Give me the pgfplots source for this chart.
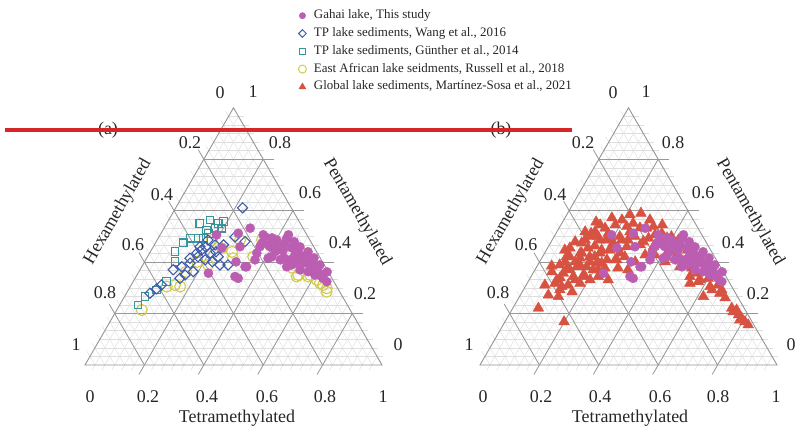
\documentclass[border=0pt]{standalone}
\usepackage{pgfplots}
\pgfplotsset{compat=1.18}
\usepackage{pgfplotstable}
\usepackage{fontspec}
\setmainfont{Liberation Serif}

\definecolor{gahai}{RGB}{187,94,178}
\definecolor{wangc}{RGB}{62,92,172}
\definecolor{guenc}{RGB}{52,150,152}
\definecolor{russc}{RGB}{212,202,72}
\definecolor{martc}{RGB}{216,82,66}
\definecolor{redline}{RGB}{215,38,42}

\tikzset{
  mingrid/.style={draw=black!13,line width=0.45bp},
  majgrid/.style={draw=black!40,line width=0.8bp},
  edge/.style={draw=black!42,line width=0.9bp},
  tick/.style={font=\fontsize{18}{20}\selectfont,text=black!85,inner sep=0pt},
}

% ternary data: T = tetramethylated, P = pentamethylated (hexa = 1 - T - P)
\pgfplotstableread{
T P
0.190 0.506
0.260 0.512
0.290 0.532
0.292 0.460
0.356 0.499
0.393 0.460
0.361 0.435
0.353 0.382
0.333 0.344
0.237 0.357
0.347 0.506
0.402 0.486
0.433 0.493
0.444 0.447
0.486 0.454
0.453 0.409
0.486 0.409
0.537 0.396
0.570 0.376
0.602 0.357
0.625 0.344
0.493 0.428
0.522 0.415
0.545 0.402
0.488 0.382
0.359 0.460
0.368 0.409
0.348 0.382
0.347 0.337
0.384 0.467
0.420 0.441
0.432 0.506
0.509 0.409
0.572 0.382
0.604 0.363
0.633 0.337
0.652 0.324
0.501 0.389
0.539 0.370
0.570 0.363
0.599 0.350
0.418 0.421
0.438 0.447
0.409 0.415
0.413 0.467
0.469 0.455
0.497 0.440
0.529 0.424
0.564 0.401
0.436 0.475
0.233 0.455
0.308 0.401
0.359 0.475
0.383 0.494
0.465 0.479
0.494 0.459
0.531 0.440
0.563 0.416
0.596 0.389
0.634 0.362
0.462 0.416
0.509 0.397
}\gahaidata

\pgfplotstableread{
T P
0.225 0.611
0.299 0.480
0.205 0.467
0.233 0.467
0.169 0.447
0.204 0.435
0.170 0.421
0.200 0.409
0.238 0.421
0.287 0.389
0.260 0.389
0.112 0.370
0.135 0.382
0.156 0.396
0.162 0.350
0.183 0.363
0.093 0.296
0.079 0.279
0.102 0.311
0.151 0.337
0.159 0.435
0.146 0.415
0.157 0.460
0.171 0.486
0.228 0.401
0.256 0.498
0.177 0.459
0.221 0.440
}\wangdata

\pgfplotstableread{
T P
0.111 0.551
0.139 0.564
0.173 0.551
0.187 0.558
0.147 0.525
0.172 0.532
0.194 0.532
0.135 0.493
0.108 0.493
0.152 0.493
0.159 0.512
0.083 0.441
0.102 0.402
0.113 0.324
0.095 0.292
0.069 0.266
0.062 0.233
0.093 0.475
}\guendata

\pgfplotstableread{
T P
0.184 0.486
0.233 0.454
0.356 0.421
0.291 0.415
0.220 0.389
0.147 0.311
0.168 0.305
0.123 0.305
0.084 0.214
0.446 0.467
0.541 0.344
0.583 0.350
0.646 0.311
0.615 0.331
0.431 0.474
0.513 0.435
0.580 0.344
0.632 0.318
0.665 0.298
0.671 0.285
0.543 0.350
0.275 0.440
0.353 0.486
0.433 0.447
0.511 0.377
0.279 0.486
0.177 0.401
0.159 0.362
}\russdata

\pgfplotstableread{
T P
0.247 0.590
0.183 0.545
0.225 0.538
0.240 0.551
0.295 0.532
0.315 0.538
0.128 0.519
0.155 0.532
0.221 0.499
0.272 0.499
0.356 0.512
0.411 0.480
0.440 0.467
0.105 0.474
0.120 0.499
0.161 0.486
0.212 0.474
0.264 0.460
0.310 0.480
0.354 0.460
0.092 0.421
0.120 0.435
0.159 0.421
0.187 0.435
0.214 0.447
0.254 0.435
0.104 0.376
0.135 0.382
0.168 0.382
0.195 0.396
0.223 0.409
0.256 0.409
0.093 0.331
0.102 0.357
0.142 0.344
0.173 0.350
0.196 0.370
0.094 0.318
0.123 0.305
0.141 0.311
0.178 0.318
0.205 0.331
0.226 0.344
0.131 0.266
0.094 0.272
0.086 0.221
0.199 0.168
0.118 0.512
0.081 0.421
0.142 0.389
0.155 0.331
0.182 0.344
0.176 0.421
0.125 0.435
0.395 0.499
0.425 0.486
0.148 0.499
0.176 0.512
0.186 0.447
0.213 0.460
0.234 0.486
0.321 0.493
0.212 0.396
0.251 0.409
0.277 0.421
0.213 0.370
0.504 0.428
0.492 0.409
0.552 0.357
0.600 0.337
0.548 0.318
0.668 0.292
0.619 0.266
0.646 0.311
0.737 0.221
0.757 0.214
0.773 0.195
0.749 0.207
0.790 0.182
0.808 0.168
0.825 0.156
0.787 0.175
0.622 0.305
0.668 0.279
0.573 0.324
0.482 0.382
0.535 0.344
0.246 0.518
0.272 0.533
0.373 0.467
0.383 0.494
0.181 0.486
0.136 0.455
0.120 0.401
0.074 0.389
0.061 0.362
0.123 0.292
0.168 0.284
0.063 0.311
0.276 0.377
0.322 0.401
0.313 0.370
0.266 0.331
0.196 0.564
0.158 0.572
0.336 0.506
0.476 0.447
0.541 0.401
0.600 0.362
0.449 0.416
0.525 0.377
0.423 0.401
0.342 0.428
0.111 0.486
0.075 0.455
0.113 0.556
0.062 0.447
0.081 0.479
0.095 0.518
0.132 0.545
0.213 0.584
0.290 0.564
0.341 0.545
0.170 0.401
0.232 0.377
0.118 0.370
0.100 0.339
0.049 0.385
0.191 0.494
0.306 0.467
0.375 0.428
0.413 0.440
0.576 0.331
0.695 0.261
0.635 0.292
0.237 0.455
0.255 0.486
0.155 0.463
0.129 0.416
0.086 0.401
}\martdata

\pgfplotsset{
  tern/.style={scale only axis,width=297bp,height=257.2bp,
    xmin=0,xmax=1,ymin=0,ymax=0.866025,hide axis,clip=false,anchor=south west},
  table/ternxy/.style={x expr=\thisrow{T}+0.5*\thisrow{P},y expr=0.866025*\thisrow{P}},
}

% grid of one triangle, lower left corner at (#1,69)
\newcommand\ternarygrid[1]{%
  \begin{scope}[shift={(#1,69)},x=297bp,y=257.2bp]
    \foreach \i in {1,...,29}{%
      \pgfmathsetmacro\v{\i/30}
      \draw[mingrid] ({\v/2},\v) -- ({1-\v/2+0.02},\v);
      \draw[mingrid] ({\v-0.01},-0.02) -- ({(1+\v)/2},{1-\v});
      \draw[mingrid] ({1-\v},0) -- ({(1-\v)/2-0.01},{1-\v+0.02});
    }
    \foreach \v in {0.2,0.4,0.6,0.8}{%
      \draw[majgrid] ({\v/2},\v) -- ({1-\v/2+0.037},\v);
      \draw[majgrid] ({\v-0.0185},-0.037) -- ({(1+\v)/2},{1-\v});
      \draw[majgrid] ({1-\v},0) -- ({(1-\v)/2-0.0185},{1-\v+0.037});
    }
    \draw[edge] (0,0) -- (1,0) -- (0.5,1) -- cycle;
  \end{scope}}

\begin{document}
\begin{tikzpicture}[x=1bp,y=1bp]
\path[use as bounding box] (0,0) rectangle (798,434);

\ternarygrid{85}
\ternarygrid{480}

\foreach \ox/\lab in {0/(a),393/(b)}{%
  \begin{scope}[xshift=\ox bp]
    \foreach \x/\l in {90/0,148/0.2,207/0.4,267/0.6,325/0.8,383/1}
      \node[tick] at (\x,37) {\l};
    \foreach \x/\y/\l in {220/341/0,190/291/0.2,162/239/0.4,133/189/0.6,105/141/0.8,76/89/1}
      \node[tick] at (\x,\y) {\l};
    \foreach \x/\y/\l in {253/342/1,280/291/0.8,310/241/0.6,340/191/0.4,365/140/0.2,398/89/0}
      \node[tick] at (\x,\y) {\l};
    \node[tick] at (237,16) {Tetramethylated};
    \node[tick,rotate=60] at (118,222) {Hexamethylated};
    \node[tick,rotate=-60] at (357,222) {Pentamethylated};
    \node[tick] at (108,304) {\lab};
  \end{scope}}

\begin{axis}[tern,at={(85bp,69bp)},
  legend style={at={(rel axis cs:0.718,1.388)},anchor=north west,draw=none,fill=none,
    inner sep=0pt,row sep=2.8bp,font=\fontsize{13}{15}\selectfont,
    nodes={inner sep=1.5bp,text height=9bp,text depth=3bp,text=black!85},
    /tikz/every odd column/.append style={column sep=6bp}},
  legend cell align=left]
\addplot[only marks,mark=o,mark size=5.5bp,color=russc,line width=1.1bp,forget plot]
  table[ternxy]{\russdata};
\addplot[only marks,mark=square,mark size=3.8bp,color=guenc,line width=1.1bp,forget plot]
  table[ternxy]{\guendata};
\addplot[only marks,mark=square,mark size=3.6bp,mark options={rotate=45},color=wangc,line width=1.1bp,forget plot]
  table[ternxy]{\wangdata};
\addplot[only marks,mark=*,mark size=4.6bp,color=gahai,forget plot]
  table[ternxy]{\gahaidata};
\addlegendimage{only marks,mark=*,mark size=3.2bp,color=gahai}
\addlegendentry{Gahai lake, This study}
\addlegendimage{only marks,mark=square,mark size=2.7bp,mark options={rotate=45},color=wangc,line width=1bp}
\addlegendentry{TP lake sediments, Wang et al., 2016}
\addlegendimage{only marks,mark=square,mark size=3bp,color=guenc,line width=1bp}
\addlegendentry{TP lake sediments, Günther et al., 2014}
\addlegendimage{only marks,mark=o,mark size=4bp,color=russc,line width=1bp}
\addlegendentry{East African lake seidments, Russell et al., 2018}
\addlegendimage{only marks,mark=triangle*,mark size=4bp,color=martc}
\addlegendentry{Global lake sediments, Martínez-Sosa et al., 2021}
\end{axis}

\begin{axis}[tern,at={(480bp,69bp)}]
\addplot[only marks,mark=triangle*,mark size=6.2bp,color=martc]
  table[ternxy]{\martdata};
\addplot[only marks,mark=*,mark size=4.6bp,color=gahai]
  table[ternxy]{\gahaidata};
\end{axis}

\draw[redline,line width=4bp] (5,304) -- (572,304);
\end{tikzpicture}
\end{document}
